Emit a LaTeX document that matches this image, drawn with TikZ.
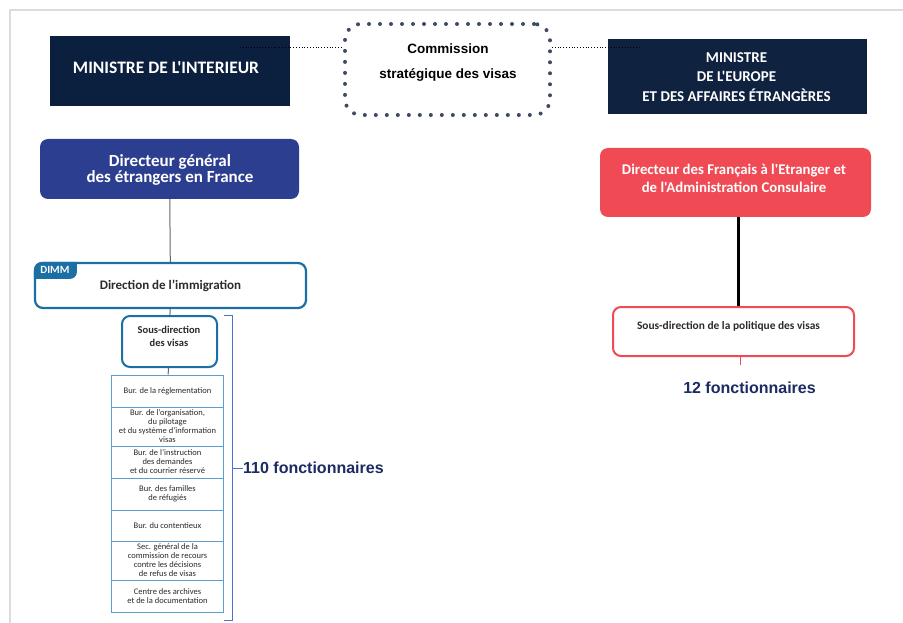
\documentclass[tikz,border=0pt]{standalone}
\usepackage{fontspec}
\usepackage{tikz}
\usetikzlibrary{shapes,arrows,backgrounds,positioning,fit,calc}
\newfontfamily\boxfont{Carlito}
\newfontfamily\arialfont{Liberation Sans}
\definecolor{navyA}{HTML}{0B1F3F}
\definecolor{navyB}{HTML}{0F2240}
\definecolor{dgblue}{HTML}{2C3E8F}
\definecolor{dfaered}{HTML}{F04B55}
\definecolor{dimmblue}{HTML}{1B6FA5}
\definecolor{stackblue}{HTML}{5C9CCF}
\definecolor{bracketblue}{HTML}{4A72CF}
\definecolor{countblue}{HTML}{1C2B62}
\definecolor{dotgray}{HTML}{3E4B63}
\definecolor{framegray}{HTML}{DCDCDC}
\definecolor{textdark}{HTML}{2A2A2A}
\begin{document}
\begin{tikzpicture}[x=1pt, y=-1pt]
			\tikzstyle{Minister}	= [rectangle, inner sep=0pt]
			\tikzstyle{Director}	= [rectangle, rounded corners=8pt, inner sep=0pt]
			\tikzstyle{SubDir}		= [rectangle, rounded corners=8pt, draw, fill=white, inner sep=0pt]
			\tikzstyle{Caption}		= [inner sep=0pt, align=center, text=white, font=\boxfont\bfseries]
			\tikzstyle{Bureau}		= [rectangle, draw=stackblue, line width=1pt, fill=white, inner sep=0pt, minimum width=112pt, text=textdark, align=center, font=\boxfont\fontsize{8.5}{9}\selectfont]
			\tikzstyle{Count}		= [text=countblue, font=\arialfont\bfseries\fontsize{16}{18}\selectfont]
			\tikzstyle{Link}		= [line width=1pt, gray!80!black]
			\tikzstyle{DotLink}		= [dotted, line width=0.8pt, black]

			\useasboundingbox (0,0) rectangle (903,623);
			% frame of the screenshot
			\draw [framegray, line width=1.5pt] (10,623) -- (10,10) -- (903,10);

			% top row
			\node (mint) at (170,71) [Minister, fill=navyA, minimum width=240pt, minimum height=70pt] {};
			\node (minttxt) at (166,68) [Caption, font=\boxfont\bfseries\fontsize{17.5}{19}\selectfont] {MINISTRE DE L'INTERIEUR};
			\node (mae) at (737.5,76.5) [Minister, fill=navyB, minimum width=259pt, minimum height=75pt] {};
			\node (maetxt) at (736.5,77) [Caption, font=\boxfont\bfseries\fontsize{15}{19.2}\selectfont] {MINISTRE\\DE L'EUROPE\\ET DES AFFAIRES ÉTRANGÈRES};
			\node (com) at (447.5,69.5) [rectangle, rounded corners=16pt, draw=dotgray, line width=4pt, line cap=round, dash pattern=on 0pt off 11pt, minimum width=205pt, minimum height=91pt, inner sep=0pt] {};
			\node (comtxt) at (448,62.5) [Caption, text=black, font=\arialfont\bfseries\fontsize{13.5}{25}\selectfont] {Commission\\stratégique des visas};

			\coordinate (mintdot) at (240,47);
			\coordinate (maedot) at (640,47);
			\draw [DotLink] (mintdot) -- (com.west |- mintdot);
			\draw [DotLink] (com.east |- maedot) -- (maedot);

			% left branch
			\node (dg) at (169.5,169) [Director, fill=dgblue, minimum width=259pt, minimum height=60pt] {};
			\node (dgtxt) at (170,170) [Caption, font=\boxfont\bfseries\fontsize{17}{16.5}\selectfont] {Directeur général\\des étrangers en France};
			\node (dimm) at (170.5,285.5) [SubDir, draw=dimmblue, line width=2.2pt, minimum width=271pt, minimum height=45pt] {};
			\begin{scope}
				\clip [rounded corners=8pt] (dimm.north west) rectangle (dimm.south east);
				\fill [dimmblue, rounded corners=7pt] ($(dimm.north west)+(-12,-12)$) rectangle ($(dimm.north west)+(43,17)$);
			\end{scope}
			\node (tab) at ($(dimm.north west)+(21,8.5)$) [Caption, font=\boxfont\bfseries\fontsize{11}{12}\selectfont] {DIMM};
			\node (dimmtxt) at (170.5,286) [Caption, text=textdark, font=\boxfont\bfseries\fontsize{13}{15}\selectfont] {Direction de l’immigration};
			\node (sdv) at (169.5,341.5) [SubDir, draw=dimmblue, line width=2pt, minimum width=95pt, minimum height=51pt] {};
			\node (sdvtxt) at (169,336.5) [Caption, text=textdark, font=\boxfont\bfseries\fontsize{10.5}{13}\selectfont] {Sous-direction\\des visas};

			\draw [Link] (dg) to (dimm);
			\draw [Link] (dimm) to (sdv);

			\foreach \n/\t/\b/\txt in {1/375/407/{Bur. de la réglementation},
				2/407/446/{Bur. de l’organisation,\\du pilotage\\et du système d’information\\visas},
				3/446/478/{Bur. de l’instruction\\des demandes\\et du courrier réservé},
				4/478/510/{Bur. des familles\\de réfugiés},
				5/510/541/{Bur. du contentieux},
				6/541/580/{Sec. général de la\\commission de recours\\contre les décisions\\de refus de visas},
				7/580/612/{Centre des archives\\et de la documentation}}
				\node (b\n) at (167.5,{(\t+\b)/2}) [Bureau, minimum height={(\b-\t)*1pt}] {\txt};

			\draw [Link] (sdv) to (b1);

			% bracket for the staff count
			\draw [bracketblue, line width=1pt] (224,315) -- (232,315) -- (232,620) -- (224,620);
			\coordinate (brmid) at (232,468);
			\node (f110) at (243,468) [Count, anchor=west, inner sep=0pt] {110 fonctionnaires};
			\draw [bracketblue, line width=1pt] (brmid) -- (f110.west);

			% right branch
			\node (dfae) at (735.5,182.5) [Director, fill=dfaered, minimum width=271pt, minimum height=69pt] {};
			\node (dfaetxt) at (734,178.5) [Caption, font=\boxfont\bfseries\fontsize{14.8}{18}\selectfont] {Directeur des Français à l'Etranger et\\de l'Administration Consulaire};
			\node (sdpv) at (733.5,331.5) [SubDir, draw=dfaered, line width=2pt, minimum width=241pt, minimum height=49pt] {};
			\node (sdpvtxt) at (728.5,326) [Caption, text=textdark, font=\boxfont\bfseries\fontsize{11.4}{12}\selectfont] {Sous-direction de la politique des visas};
			\draw [line width=2.2pt, black] ([xshift=3pt]dfae.south) -- ([xshift=3pt]dfae.south |- sdpv.north);

			\coordinate (tick) at (740,365);
			\draw [dfaered, line width=1pt] (tick |- sdpv.south) -- (tick);
			\node (f12) at (749.5,388) [Count] {12 fonctionnaires};
\end{tikzpicture}
\end{document}
